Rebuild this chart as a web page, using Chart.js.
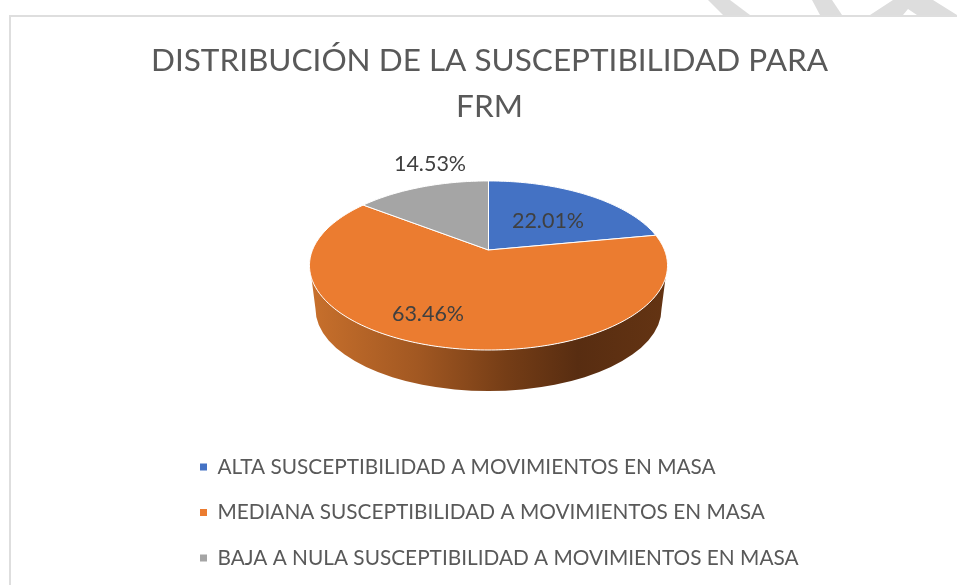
<!DOCTYPE html>
<html><head><meta charset="utf-8">
<style>html,body{margin:0;padding:0;background:#fff}canvas{display:block}</style>
<script src="https://cdn.jsdelivr.net/npm/chart.js@4"></script>
</head><body>
<div style="width:957px;height:585px"><canvas id="c" width="957" height="585"></canvas></div>
<script>
const titleLines = ['DISTRIBUCIÓN DE LA SUSCEPTIBILIDAD PARA', 'FRM'];
const categories = [
  'ALTA SUSCEPTIBILIDAD A MOVIMIENTOS EN MASA',
  'MEDIANA SUSCEPTIBILIDAD A MOVIMIENTOS EN MASA',
  'BAJA A NULA SUSCEPTIBILIDAD A MOVIMIENTOS EN MASA'
];
const values = [22.01, 63.46, 14.53];
const sliceColors = ['#4472C4', '#EB7C30', '#A5A5A5'];
const wallStops = [[0,'#C8702C'],[0.3,'#A25822'],[0.55,'#753D16'],[0.75,'#582D11'],[1,'#643413']];

const FONT = 'Lato, Carlito, sans-serif';
const G = {apexY:250, a:176, b:81.7, k:-0.183, rx:179, ellCy:265.5, ry:84.5,
           botRx:173, botRy:82, botCy:309, wallTopY:278};
const labelOffsets = [[60,-29],[-60,64],[-58,-86]];

function project(cx, ang){
  const u=Math.cos(ang), v=Math.sin(ang), w=1+G.k*v;
  return [cx+G.a*u/w, G.apexY+G.b*v/w];
}

const pie3d = {
  id:'pie3d',
  beforeDraw(chart){
    const c=chart.ctx; c.save();
    c.fillStyle='#dddddd';
    [[[708,0],[730,0],[750,15],[723,15]],
     [[812,0],[832,0],[842,15],[820,15]],
     [[893,0],[933,0],[957,15],[917,15],[908,9],[903,15],[870,15]]].forEach(p=>{
      c.beginPath(); p.forEach((q,i)=>i?c.lineTo(q[0],q[1]):c.moveTo(q[0],q[1])); c.closePath(); c.fill();
    });
    c.fillStyle='#dedede';
    c.fillRect(9,15,948,2);
    c.fillRect(9,15,2,570);
    c.restore();
  },
  afterLayout(chart){
    chart.titleBlock.left+=1; chart.titleBlock.right+=1;
    chart.titleBlock.top=38; chart.titleBlock.bottom=chart.titleBlock.top+chart.titleBlock.height;
    const lg=chart.legend, p=lg.options.labels.padding;
    lg.left=200-p; lg.top=432;
    lg.bottom=lg.top+lg.height;
  },
  beforeDatasetDraw(chart){
    const c=chart.ctx, arcs=chart.getDatasetMeta(0).data, cx=arcs[0].x;
    c.save();
    const grad=c.createLinearGradient(cx-G.rx,0,cx+G.rx,0);
    wallStops.forEach(s=>grad.addColorStop(s[0],s[1]));
    c.beginPath();
    const dy=G.wallTopY-G.ellCy;
    const t0=Math.asin(dy/G.ry);
    c.ellipse(cx,G.ellCy,G.rx,G.ry,0,t0,Math.PI-t0,false);
    c.lineTo(cx-G.botRx,G.botCy);
    c.ellipse(cx,G.botCy,G.botRx,G.botRy,0,Math.PI,0,true);
    c.closePath();
    c.fillStyle=grad; c.fill();
    arcs.forEach((el,i)=>{
      const p=el.getProps(['startAngle','endAngle']);
      c.beginPath(); c.moveTo(cx,G.apexY);
      const n=Math.max(8,Math.ceil((p.endAngle-p.startAngle)*60));
      for(let j=0;j<=n;j++){
        const q=project(cx,p.startAngle+(p.endAngle-p.startAngle)*j/n);
        c.lineTo(q[0],q[1]);
      }
      c.closePath();
      c.fillStyle=sliceColors[i]; c.fill();
      c.strokeStyle='#ffffff'; c.lineWidth=1; c.lineJoin='round'; c.stroke();
    });
    c.restore();
    return false;
  },
  afterDatasetsDraw(chart){
    const c=chart.ctx, arcs=chart.getDatasetMeta(0).data, cx=arcs[0].x;
    c.save();
    c.font='21.5px '+FONT; c.fillStyle='#404040'; c.textAlign='center'; c.textBaseline='middle';
    values.forEach((v,i)=>c.fillText(v.toFixed(2)+'%',cx+labelOffsets[i][0]-0.5,G.apexY+labelOffsets[i][1]));
    c.restore();
  }
};

new Chart(document.getElementById('c'),{
  type:'pie',
  data:{labels:categories,datasets:[{data:values,backgroundColor:sliceColors,borderWidth:0}]},
  options:{
    responsive:false,animation:false,
    layout:{padding:{left:20}},
    plugins:{
      tooltip:{enabled:false},
      title:{display:true,text:titleLines,color:'#595959',
        font:{family:FONT,size:31.5,weight:'normal',lineHeight:1.46},padding:{top:0,bottom:10}},
      legend:{position:'bottom',align:'start',
        labels:{color:'#595959',font:{family:FONT,size:20.8},boxWidth:7,boxHeight:7,padding:24.7}}
    }
  },
  plugins:[pie3d]
});
</script>
</body></html>
